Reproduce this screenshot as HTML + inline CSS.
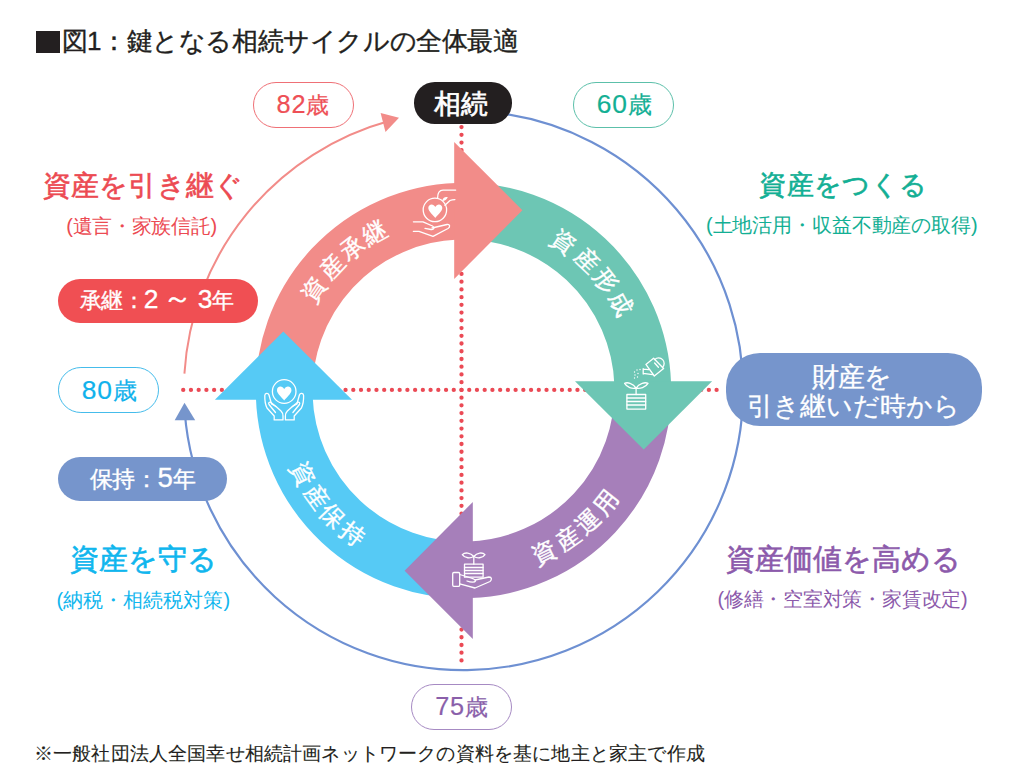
<!DOCTYPE html>
<html lang="ja"><head><meta charset="utf-8">
<style>
html,body{margin:0;padding:0;background:#fff;}
body{width:1024px;height:782px;position:relative;overflow:hidden;font-family:"Liberation Sans",sans-serif;}
.t{position:absolute;white-space:nowrap;line-height:1;}
.pill{position:absolute;box-sizing:border-box;display:flex;align-items:center;justify-content:center;white-space:nowrap;line-height:1;}
svg{position:absolute;left:0;top:0;}
.dg{font-size:1.1em;letter-spacing:0.03em}
.dg2{font-size:1.2em}
.wv{font-size:1.3em;letter-spacing:0}
</style></head><body>
<svg width="1024" height="782" viewBox="0 0 1024 782">
<path d="M184.41 373.62 A279.6 279.6 0 0 1 389.81 120.79" fill="none" stroke="#F28C89" stroke-width="2"/>
<polygon points="399,117.8 380.6,113 385.5,131.9" fill="#F28C89"/>
<path d="M494.98 112.68 A279.6 279.6 0 1 1 184.73 411.98" fill="none" stroke="#6E90D2" stroke-width="2.2"/>
<polygon points="184.5,402.7 174.7,420.2 195.2,420.2" fill="#7695CC"/>
<line x1="461.5" y1="127.08" x2="461.5" y2="668.18" stroke="#EB4A55" stroke-width="4.3" stroke-linecap="round" stroke-dasharray="0 7.73"/>
<line x1="183.22" y1="389.9" x2="724.32" y2="389.9" stroke="#EB4A55" stroke-width="4.3" stroke-linecap="round" stroke-dasharray="0 7.73"/>
<path d="M284.26 396.76 A179.35 179.35 0 0 1 457.24 211.26" fill="none" stroke="#F28C89" stroke-width="56.70"/>
<path d="M457.24 211.26 A179.35 179.35 0 0 1 642.74 384.24" fill="none" stroke="#6DC6B4" stroke-width="56.70"/>
<path d="M642.74 384.24 A179.35 179.35 0 0 1 469.76 569.74" fill="none" stroke="#A67FBA" stroke-width="56.70"/>
<path d="M469.76 569.74 A179.35 179.35 0 0 1 284.26 396.76" fill="none" stroke="#56CAF5" stroke-width="56.70"/>
<polygon points="454.20,141.90 454.20,279.00 522.40,210.30" fill="#F28C89"/>
<polygon points="712.10,381.20 575.00,381.20 643.70,449.40" fill="#6DC6B4"/>
<polygon points="472.80,639.10 472.80,502.00 404.60,570.70" fill="#A67FBA"/>
<polygon points="214.90,399.80 352.00,399.80 283.30,331.60" fill="#56CAF5"/>
<g fill="#fff" font-size="24" stroke="#fff" stroke-width="0.4" style="font-family:'Liberation Sans',sans-serif"><text x="0" y="0" transform="translate(313.44 289.29) rotate(-56.00)" text-anchor="middle" dominant-baseline="central">資</text><text x="0" y="0" transform="translate(331.56 266.60) rotate(-46.80)" text-anchor="middle" dominant-baseline="central">産</text><text x="0" y="0" transform="translate(352.31 247.68) rotate(-37.90)" text-anchor="middle" dominant-baseline="central">承</text><text x="0" y="0" transform="translate(374.65 232.81) rotate(-29.40)" text-anchor="middle" dominant-baseline="central">継</text></g>
<g fill="#fff" font-size="24" stroke="#fff" stroke-width="0.4" style="font-family:'Liberation Sans',sans-serif"><text x="0" y="0" transform="translate(564.15 241.27) rotate(34.00)" text-anchor="middle" dominant-baseline="central">資</text><text x="0" y="0" transform="translate(587.18 259.72) rotate(43.40)" text-anchor="middle" dominant-baseline="central">産</text><text x="0" y="0" transform="translate(605.92 280.43) rotate(52.30)" text-anchor="middle" dominant-baseline="central">形</text><text x="0" y="0" transform="translate(621.24 303.78) rotate(61.20)" text-anchor="middle" dominant-baseline="central">成</text></g>
<g fill="#fff" font-size="24" stroke="#fff" stroke-width="0.4" style="font-family:'Liberation Sans',sans-serif"><text x="0" y="0" transform="translate(544.26 552.48) rotate(-26.50)" text-anchor="middle" dominant-baseline="central">資</text><text x="0" y="0" transform="translate(567.58 538.59) rotate(-35.10)" text-anchor="middle" dominant-baseline="central">産</text><text x="0" y="0" transform="translate(587.86 522.01) rotate(-43.40)" text-anchor="middle" dominant-baseline="central">運</text><text x="0" y="0" transform="translate(605.54 502.68) rotate(-51.70)" text-anchor="middle" dominant-baseline="central">用</text></g>
<g fill="#fff" font-size="24" stroke="#fff" stroke-width="0.4" style="font-family:'Liberation Sans',sans-serif"><text x="0" y="0" transform="translate(302.95 474.08) rotate(62.50)" text-anchor="middle" dominant-baseline="central">資</text><text x="0" y="0" transform="translate(317.25 497.14) rotate(53.90)" text-anchor="middle" dominant-baseline="central">産</text><text x="0" y="0" transform="translate(332.86 515.78) rotate(46.20)" text-anchor="middle" dominant-baseline="central">保</text><text x="0" y="0" transform="translate(353.06 533.90) rotate(37.60)" text-anchor="middle" dominant-baseline="central">持</text></g>
<g stroke="#fff" stroke-width="1.3" fill="none" stroke-linecap="round" stroke-linejoin="round"><circle cx="434.9" cy="209.9" r="11.7"/><path d="M437.6 198 C437.6 193 439 190.1 443 190.1 L455.7 190.1"/><path d="M444.9 205.3 L450 200.5 C452 199.6 453.5 199.6 454.9 199.6"/><path d="M413.4 221.8 L423 221.8 L432.5 226 C435 227.5 434 230 431 229.5 L425 228.3"/><path d="M432 228 L447 224.5 C450 224 450.5 227 448 228.5 L433 236.4 L419 231.4 L413.4 231.4"/></g>
<path d="M435.3 217.89999999999998 C433.90000000000003 215.79999999999998 428.3 211.6 428.3 208.1 C428.3 203.89999999999998 433.62 203.2 435.3 207.11999999999998 C436.98 203.2 442.3 203.89999999999998 442.3 208.1 C442.3 211.6 436.7 215.79999999999998 435.3 217.89999999999998Z" fill="#fff"/>
<path d="M442.3 201 C442.6 197.8 445 196.6 447.8 197.2 C446.8 199.6 444.8 200.9 442.3 201Z" fill="#fff"/>
<g stroke="#fff" stroke-width="1.3" fill="none" stroke-linecap="round" stroke-linejoin="round"><circle cx="284.2" cy="391.5" r="11.8"/><path d="M274.2 419.9 L274.2 416 L267 408 C265.5 405 264.7 400 264.8 395.5 C265 393 268 392.5 269 395 L271.5 404 L276 406.5 L281 411 C282.5 412.5 283 414 283 416 L283 419.9 Z"/><path d="M276 406.5 L271 402.5 C269.5 401.5 268 403 269 404.5 L275.5 412.5"/><path d="M294.2 419.9 L294.2 416 L301.4 408 C302.9 405 303.7 400 303.6 395.5 C303.4 393 300.4 392.5 299.4 395 L296.9 404 L292.4 406.5 L287.4 411 C285.9 412.5 285.4 414 285.4 416 L285.4 419.9 Z"/><path d="M292.4 406.5 L297.4 402.5 C298.9 401.5 300.4 403 299.4 404.5 L292.9 412.5"/></g>
<path d="M284.2 400.375 C282.75 398.2 276.95 393.84999999999997 276.95 390.22499999999997 C276.95 385.875 282.46 385.15 284.2 389.21 C285.94 385.15 291.45 385.875 291.45 390.22499999999997 C291.45 393.84999999999997 285.65 398.2 284.2 400.375Z" fill="#fff"/>
<g stroke="#fff" stroke-width="1.3" fill="none" stroke-linecap="round" stroke-linejoin="round"><rect x="626.9" y="394.5" width="18.8" height="14.6"/><path d="M627 398 H645.6 M627 401.5 H645.6 M627 405 H645.6"/><path d="M636.1 388.4 V394.5"/><path d="M636.1 388 C633 383 627 382 624.6 383.4 C627 387.5 632 389 636.1 388 C640 389 645.5 387.5 648 383.4 C645.5 382 639 383 636.1 388"/><polygon points="653.6,358.3 663.6,368.5 654.3,376 645.9,364.4"/><path d="M654.8 359.5 A5.3 5.3 0 0 1 662.5 367.4"/><path d="M654.6 363 L658.4 367.2"/><path d="M648.6 369.6 L643.4 369.2 M652.6 374.6 L643.2 373.4 M643.2 368.6 L643.2 374"/></g>
<circle cx="634.5" cy="372" r="0.7" fill="#fff"/>
<circle cx="637" cy="370" r="0.7" fill="#fff"/>
<circle cx="640" cy="369.5" r="0.7" fill="#fff"/>
<circle cx="635" cy="375" r="0.7" fill="#fff"/>
<circle cx="638" cy="373.5" r="0.7" fill="#fff"/>
<circle cx="634.5" cy="378" r="0.7" fill="#fff"/>
<circle cx="637.5" cy="377" r="0.7" fill="#fff"/>
<g stroke="#fff" stroke-width="1.3" fill="none" stroke-linecap="round" stroke-linejoin="round"><rect x="464.5" y="564.2" width="18.6" height="13"/><path d="M464.5 567.5 H483 M464.5 570.5 H483 M464.5 573.5 H483"/><path d="M473.8 556.5 V564.2"/><path d="M473.8 556.5 C470.5 552.5 465 552 462.3 554.6 C465 558.5 470.5 558.5 473.8 556.5 C477 558.5 482.5 558.5 485 554.6 C482.5 552 477 552.5 473.8 556.5"/><rect x="452.7" y="572.5" width="7" height="13.8" rx="1.2"/><path d="M459.7 574.5 L468 577 C472 578.5 476 579 475.5 581 C475 582.5 471 582.5 467 581"/><path d="M475 580 L489 577 C492 577 492 580 490 581.5 L475 588 L459.7 583.8"/></g>
</svg>
<div style="position:absolute;left:36.4px;top:31px;width:24px;height:22px;background:#231f20"></div>
<div class="pill" style="left:252.6px;top:81.8px;width:101.3px;height:46px;border-radius:23.0px;border:1.5px solid #EF7076"></div>
<div class="pill" style="left:414.3px;top:82px;width:97.7px;height:41.6px;border-radius:20.8px;background:#231f20"></div>
<div class="pill" style="left:573px;top:81.6px;width:100.5px;height:46.1px;border-radius:23.1px;border:1.5px solid #5CC0AA"></div>
<div class="pill" style="left:58px;top:278.5px;width:200px;height:44.7px;border-radius:22.4px;background:#F04F53"></div>
<div class="pill" style="left:58px;top:366.8px;width:100.8px;height:45.9px;border-radius:22.9px;border:1.5px solid #45BCEB"></div>
<div class="pill" style="left:58px;top:456.7px;width:168.5px;height:44.3px;border-radius:22.1px;background:#7695CC"></div>
<div class="pill" style="left:725.6px;top:352.7px;width:256.8px;height:73.7px;border-radius:36.9px;background:#7695CC;border-radius:34px"></div>
<div class="pill" style="left:411.3px;top:683.6px;width:100.9px;height:46.8px;border-radius:23.4px;border:1.5px solid #A68AC3"></div>
<div class="t" style="left:61.50px;top:28.40px;font-size:26.00px;letter-spacing:-0.42px;color:#231f20;-webkit-text-stroke:0.35px #231f20">図1：鍵となる相続サイクルの全体最適</div>
<div class="t" style="left:276.60px;top:92.10px;font-size:23.00px;letter-spacing:-0.80px;color:#EE4F56;-webkit-text-stroke:0.2px #EE4F56"><span class="dg">82</span>歳</div>
<div class="t" style="left:434.10px;top:91.00px;font-size:27.00px;letter-spacing:0.00px;color:#ffffff;-webkit-text-stroke:0.7px #ffffff">相続</div>
<div class="t" style="left:596.80px;top:91.30px;font-size:24.00px;letter-spacing:-2.80px;color:#13AF94;-webkit-text-stroke:0.2px #13AF94"><span class="dg">60</span>歳</div>
<div class="t" style="left:42.70px;top:172.20px;font-size:28.00px;letter-spacing:0.24px;color:#EC4A52;-webkit-text-stroke:0.6px #EC4A52">資産を引き継ぐ</div>
<div class="t" style="left:66.20px;top:215.90px;font-size:20.00px;letter-spacing:-0.28px;color:#EC4A52;-webkit-text-stroke:0px #EC4A52">(遺言・家族信託)</div>
<div class="t" style="left:80.00px;top:284.30px;font-size:22.00px;letter-spacing:-0.72px;color:#ffffff;-webkit-text-stroke:0.35px #ffffff">承継：<span class="dg2">2</span> <span class="wv">～</span> <span class="dg2">3</span>年</div>
<div class="t" style="left:81.80px;top:376.70px;font-size:24.00px;letter-spacing:-2.48px;color:#10B2EC;-webkit-text-stroke:0.2px #10B2EC"><span class="dg">80</span>歳</div>
<div class="t" style="left:89.80px;top:464.20px;font-size:23.00px;letter-spacing:-0.40px;color:#ffffff;-webkit-text-stroke:0.35px #ffffff">保持：<span class="dg2">5</span>年</div>
<div class="t" style="left:69.90px;top:545.20px;font-size:29.00px;letter-spacing:0.08px;color:#10B6EE;-webkit-text-stroke:0.6px #10B6EE">資産を守る</div>
<div class="t" style="left:56.40px;top:589.60px;font-size:20.00px;letter-spacing:0.04px;color:#10B6EE;-webkit-text-stroke:0px #10B6EE">(納税・相続税対策)</div>
<div class="t" style="left:759.20px;top:172.30px;font-size:27.00px;letter-spacing:0.38px;color:#13AF94;-webkit-text-stroke:0.6px #13AF94">資産をつくる</div>
<div class="t" style="left:706.10px;top:215.40px;font-size:20.00px;letter-spacing:-0.13px;color:#13AF94;-webkit-text-stroke:0px #13AF94">(土地活用・収益不動産の取得)</div>
<div class="t" style="left:812.00px;top:363.60px;font-size:27.00px;letter-spacing:-0.80px;color:#ffffff;-webkit-text-stroke:0.3px #ffffff">財産を</div>
<div class="t" style="left:746.60px;top:392.60px;font-size:26.00px;letter-spacing:0.05px;color:#ffffff;-webkit-text-stroke:0.3px #ffffff">引き継いだ時から</div>
<div class="t" style="left:725.60px;top:545.30px;font-size:29.00px;letter-spacing:0.00px;color:#8C5AAB;-webkit-text-stroke:0.6px #8C5AAB">資産価値を高める</div>
<div class="t" style="left:717.40px;top:589.00px;font-size:20.00px;letter-spacing:-0.23px;color:#8C5AAB;-webkit-text-stroke:0px #8C5AAB">(修繕・空室対策・家賃改定)</div>
<div class="t" style="left:435.20px;top:694.30px;font-size:23.00px;letter-spacing:-3.20px;color:#8A5FAA;-webkit-text-stroke:0.2px #8A5FAA"><span class="dg">75</span>歳</div>
<div class="t" style="left:33.90px;top:744.20px;font-size:19.00px;letter-spacing:0.17px;color:#231f20;-webkit-text-stroke:0.1px #231f20">※一般社団法人全国幸せ相続計画ネットワークの資料を基に地主と家主で作成</div>
</body></html>
